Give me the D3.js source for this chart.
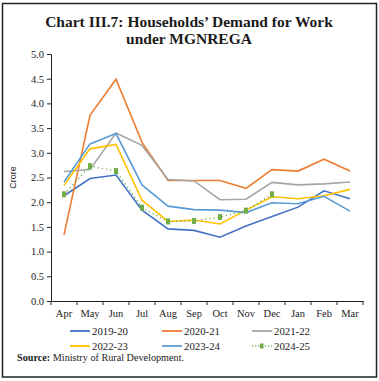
<!DOCTYPE html>
<html lang="en">
<head>
    <meta charset="UTF-8">
    <title>Households' Demand for Work under MGNREGA</title>
    <script src="https://d3js.org/d3.v7.min.js"></script>
    <style>
        body {
            margin: 0;
            padding: 0;
            background: #fff;
        }
        svg { display: block; }
        .tick text {
            font-family: "Liberation Serif", "DejaVu Serif", serif;
            font-size: 10.5px;
            fill: #222;
        }
        .legend-label {
            font-family: "Liberation Serif", serif;
            font-size: 10.8px;
            fill: #222;
        }
    </style>
</head>
<body>
    <div id="chart"></div>
    <script>
        const width = 379;
        const height = 381;

        // Data (crore households)
        const months = ["Apr", "May", "Jun", "Jul", "Aug", "Sep", "Oct", "Nov", "Dec", "Jan", "Feb", "Mar"];
        const seriesNames = ["2019-20", "2020-21", "2021-22", "2022-23", "2023-24", "2024-25"];
        const seriesColors = ["#4472C4", "#ED7D31", "#A5A5A5", "#FFC000", "#5B9BD5", "#70AD47"];
        const fy2019 = [2.13, 2.48, 2.55, 1.84, 1.46, 1.43, 1.29, 1.52, 1.71, 1.90, 2.23, 2.07];
        const fy2020 = [1.34, 3.76, 4.49, 3.21, 2.44, 2.44, 2.44, 2.28, 2.66, 2.63, 2.87, 2.63];
        const fy2021 = [2.62, 2.66, 3.40, 3.15, 2.46, 2.43, 2.05, 2.06, 2.40, 2.35, 2.37, 2.41];
        const fy2022 = [2.34, 3.08, 3.17, 2.04, 1.61, 1.64, 1.56, 1.84, 2.11, 2.07, 2.13, 2.26];
        const fy2023 = [2.41, 3.18, 3.39, 2.35, 1.92, 1.85, 1.84, 1.79, 1.99, 1.97, 2.12, 1.82];
        const fy2024 = [2.16, 2.73, 2.63, 1.89, 1.61, 1.62, 1.70, 1.83, 2.16];
        const yTicks = [0, 0.5, 1.0, 1.5, 2.0, 2.5, 3.0, 3.5, 4.0, 4.5, 5.0];

        const allSeries = [fy2019, fy2020, fy2021, fy2022, fy2023, fy2024];

        const svg = d3.select("#chart")
            .append("svg")
            .attr("width", width)
            .attr("height", height);

        // Outer frame
        svg.append("rect")
            .attr("x", 2.5).attr("y", 3.5)
            .attr("width", 374).attr("height", 373.5)
            .attr("fill", "none")
            .attr("stroke", "#222")
            .attr("stroke-width", 1.5);

        // Title (two lines)
        const titleLines = ["Chart III.7: Households\u2019 Demand for Work", "under MGNREGA"];
        svg.selectAll(".title")
            .data(titleLines)
            .enter()
            .append("text")
            .attr("class", "title")
            .attr("x", 189)
            .attr("y", (d, i) => 27 + i * 17)
            .attr("text-anchor", "middle")
            .attr("font-family", "Liberation Serif, DejaVu Serif, serif")
            .attr("font-weight", "bold")
            .attr("font-size", 15.5)
            .attr("fill", "#1a1a1a")
            .text(d => d);

        const margin = { left: 51, right: 363, top: 54, bottom: 301 };

        const x = d3.scaleBand()
            .domain(months)
            .range([margin.left, margin.right]);

        const y = d3.scaleLinear()
            .domain([0, 5])
            .range([margin.bottom, margin.top]);

        // Y axis
        const yAxis = svg.append("g")
            .attr("transform", `translate(${margin.left},0)`)
            .call(d3.axisLeft(y).tickValues(yTicks).tickFormat(d3.format(".1f")).tickSize(4).tickPadding(3));
        yAxis.selectAll("line, path").attr("stroke", "#222");

        // X axis, ticks at category boundaries
        const xAxis = svg.append("g")
            .attr("transform", `translate(0,${margin.bottom})`)
            .call(d3.axisBottom(x).tickSize(0).tickPadding(9));
        xAxis.select("path").attr("stroke", "#222");
        xAxis.selectAll(".boundary")
            .data(d3.range(months.length + 1))
            .enter()
            .append("line")
            .attr("x1", i => margin.left + i * x.bandwidth())
            .attr("x2", i => margin.left + i * x.bandwidth())
            .attr("y1", 0).attr("y2", 4)
            .attr("stroke", "#222");

        // Y axis title
        svg.append("text")
            .attr("transform", `translate(16,${(margin.top + margin.bottom) / 2}) rotate(-90)`)
            .attr("text-anchor", "middle")
            .attr("font-family", "Liberation Sans, Arial, sans-serif")
            .attr("font-size", 9)
            .attr("fill", "#222")
            .text("Crore");

        const line = d3.line()
            .x((d, i) => x(months[i]) + x.bandwidth() / 2)
            .y(d => y(d));

        // Solid series
        allSeries.slice(0, 5).forEach((s, k) => {
            svg.append("path")
                .datum(s)
                .attr("fill", "none")
                .attr("stroke", seriesColors[k])
                .attr("stroke-width", 1.6)
                .attr("d", line);
        });

        // 2024-25: dotted line with square markers
        svg.append("path")
            .datum(fy2024)
            .attr("fill", "none")
            .attr("stroke", seriesColors[5])
            .attr("stroke-width", 1.4)
            .attr("stroke-dasharray", "1.2,3")
            .attr("d", line);
        svg.selectAll(".marker")
            .data(fy2024)
            .enter()
            .append("rect")
            .attr("class", "marker")
            .attr("x", (d, i) => x(months[i]) + x.bandwidth() / 2 - 2)
            .attr("y", d => y(d) - 3)
            .attr("width", 4)
            .attr("height", 6)
            .attr("fill", seriesColors[5]);

        // Legend
        const legendX = [70, 162, 252];
        const legendY = [331, 346];
        seriesNames.forEach((name, k) => {
            const lx = legendX[k % 3];
            const ly = legendY[Math.floor(k / 3)];
            const g = svg.append("g").attr("transform", `translate(${lx},${ly})`);
            if (k < 5) {
                g.append("line")
                    .attr("x1", 0).attr("x2", 20)
                    .attr("y1", 0).attr("y2", 0)
                    .attr("stroke", seriesColors[k])
                    .attr("stroke-width", 1.8);
            } else {
                g.append("line")
                    .attr("x1", 0).attr("x2", 20)
                    .attr("y1", 0).attr("y2", 0)
                    .attr("stroke", seriesColors[k])
                    .attr("stroke-width", 1.6)
                    .attr("stroke-dasharray", "1.2,2");
                g.append("rect")
                    .attr("x", 8).attr("y", -2.5)
                    .attr("width", 3.5).attr("height", 5)
                    .attr("fill", seriesColors[k]);
            }
            g.append("text")
                .attr("class", "legend-label")
                .attr("x", 22)
                .attr("y", 3.8)
                .text(name);
        });

        // Source note
        const source = svg.append("text")
            .attr("x", 17)
            .attr("y", 361)
            .attr("font-family", "Liberation Serif, serif")
            .attr("font-size", 10.2)
            .attr("fill", "#222");
        source.append("tspan").attr("font-weight", "bold").text("Source:");
        source.append("tspan").text(" Ministry of Rural Development.");
    </script>
</body>
</html>
